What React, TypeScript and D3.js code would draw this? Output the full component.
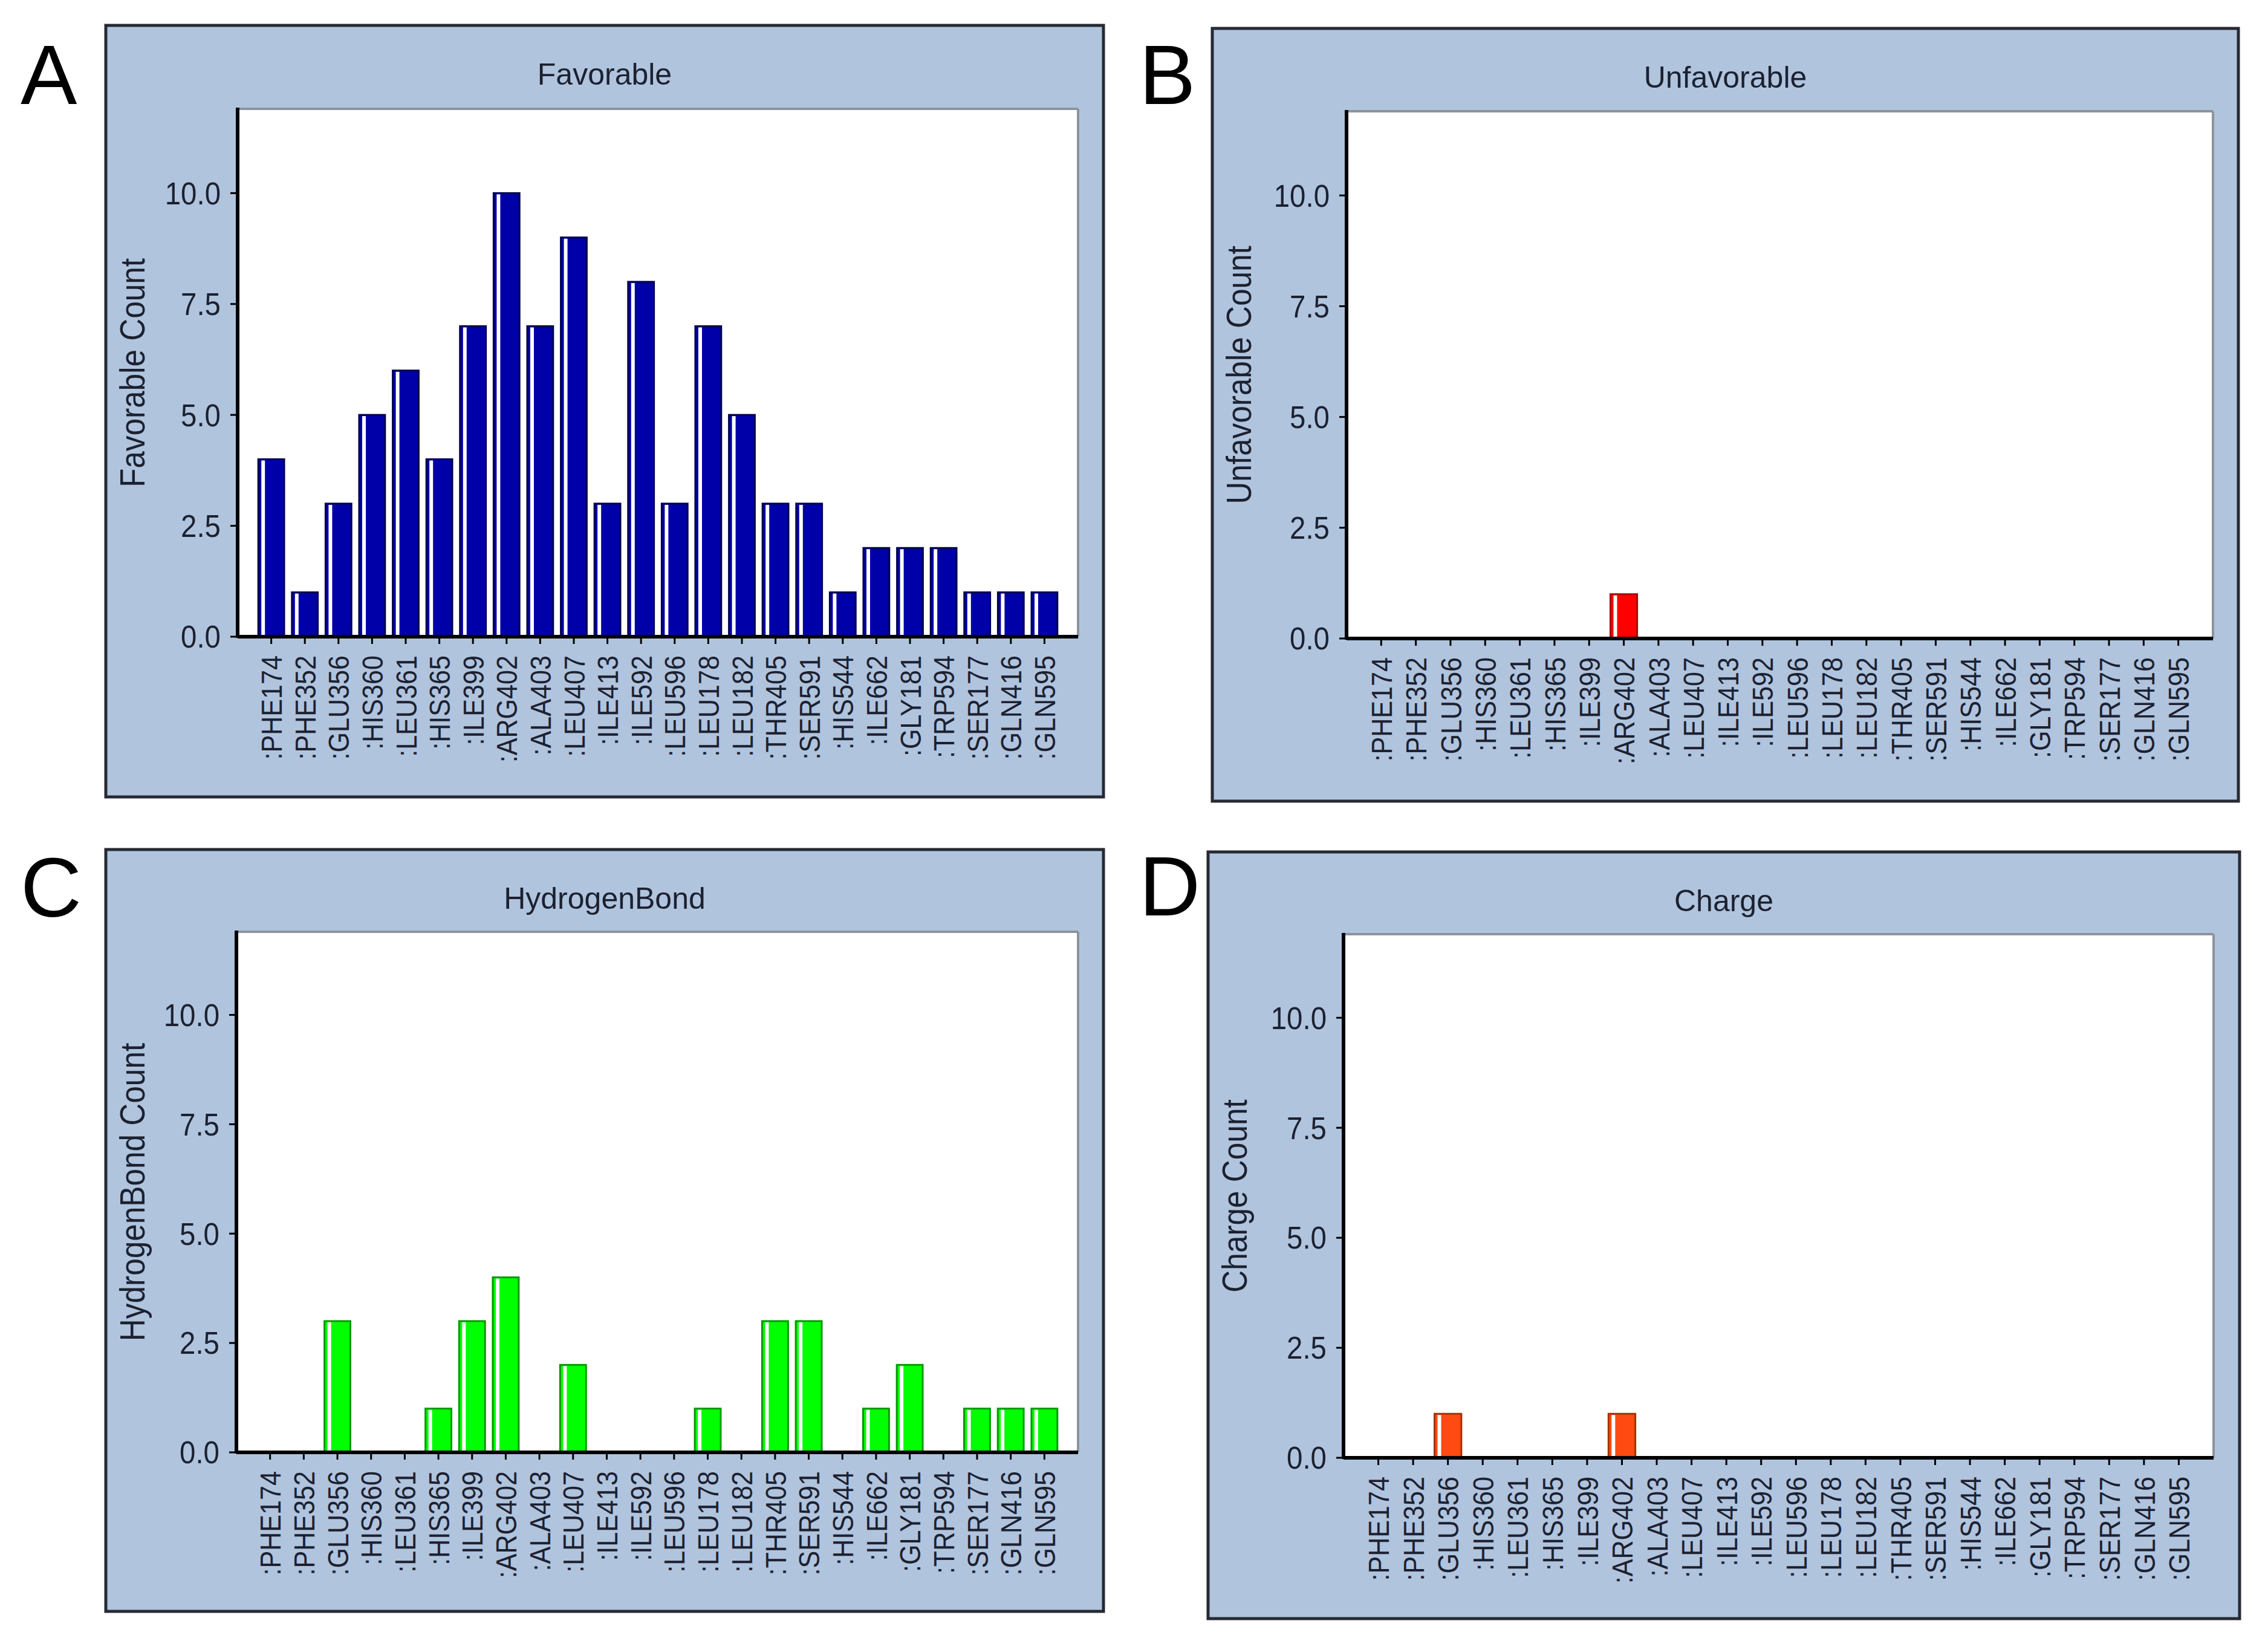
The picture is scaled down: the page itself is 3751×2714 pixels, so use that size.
import React from "react";
import * as d3 from "d3";

const residues = [
  ":PHE174", ":PHE352", ":GLU356", ":HIS360", ":LEU361", ":HIS365", ":ILE399", ":ARG402",
  ":ALA403", ":LEU407", ":ILE413", ":ILE592", ":LEU596", ":LEU178", ":LEU182", ":THR405",
  ":SER591", ":HIS544", ":ILE662", ":GLY181", ":TRP594", ":SER177", ":GLN416", ":GLN595",
];

const favorable = [4, 1, 3, 5, 6, 4, 7, 10, 7, 9, 3, 8, 3, 7, 5, 3, 3, 1, 2, 2, 2, 1, 1, 1];
const unfavorable = [0, 0, 0, 0, 0, 0, 0, 1, 0, 0, 0, 0, 0, 0, 0, 0, 0, 0, 0, 0, 0, 0, 0, 0];
const hydrogenBond = [0, 0, 3, 0, 0, 1, 3, 4, 0, 2, 0, 0, 0, 1, 0, 3, 3, 0, 1, 2, 0, 1, 1, 1];
const charge = [0, 0, 1, 0, 0, 0, 0, 1, 0, 0, 0, 0, 0, 0, 0, 0, 0, 0, 0, 0, 0, 0, 0, 0];

const yTicks = [0, 2.5, 5, 7.5, 10];
const yMax = 11.9;

const FONT = "'Liberation Sans', Arial, Helvetica, sans-serif";
const INK = "#1c2130";

interface Panel {
  letter: string;
  title: string;
  yLabel: string;
  values: number[];
  fill: string;
  stroke: string;
  box: [number, number, number, number]; // x0, y0, x1, y1 of outer frame
  plot: [number, number, number, number]; // x0, y0, x1, y1 of plot area
  letterPos: [number, number];
}

const panels: Panel[] = [
  {
    letter: "A", title: "Favorable", yLabel: "Favorable Count", values: favorable,
    fill: "#0000A8", stroke: "#000050",
    box: [175, 42, 1825, 1318], plot: [393, 180, 1783, 1053], letterPos: [34, 172],
  },
  {
    letter: "B", title: "Unfavorable", yLabel: "Unfavorable Count", values: unfavorable,
    fill: "#FF0000", stroke: "#B00000",
    box: [2005, 47, 3702, 1325], plot: [2227, 184, 3660, 1056], letterPos: [1884, 172],
  },
  {
    letter: "C", title: "HydrogenBond", yLabel: "HydrogenBond Count", values: hydrogenBond,
    fill: "#00FF00", stroke: "#009A00",
    box: [175, 1405, 1825, 2665], plot: [391, 1541, 1783, 2402], letterPos: [34, 1516],
  },
  {
    letter: "D", title: "Charge", yLabel: "Charge Count", values: charge,
    fill: "#FF4A12", stroke: "#A83000",
    box: [1998, 1409, 3704, 2677], plot: [2222, 1545, 3661, 2411], letterPos: [1884, 1514],
  },
];

const ChartPanel: React.FC<{ p: Panel }> = ({ p }) => {
  const [bx0, by0, bx1, by1] = p.box;
  const [px0, py0, px1, py1] = p.plot;

  const x = d3.scalePoint<string>().domain(residues).range([px0, px1]).padding(1);
  const y = d3.scaleLinear().domain([0, yMax]).range([py1, py0]);
  const bw = x.step() * 0.77;

  return (
    <g>
      {/* frame */}
      <rect x={bx0} y={by0} width={bx1 - bx0} height={by1 - by0} fill="#B0C4DE" stroke="#262a33" strokeWidth={5} />
      <text x={(bx0 + bx1) / 2} y={by0 + 98} textAnchor="middle" fontFamily={FONT} fontSize={50} fill={INK}>
        {p.title}
      </text>

      {/* plot area */}
      <rect x={px0} y={py0} width={px1 - px0} height={py1 - py0} fill="#ffffff" />
      <line x1={px0} x2={px1} y1={py0} y2={py0} stroke="#8e939b" strokeWidth={4} />
      <line x1={px1} x2={px1} y1={py0} y2={py1} stroke="#8e939b" strokeWidth={4} />

      {/* bars */}
      {residues.map((r, i) => {
        const v = p.values[i];
        if (!v) return null;
        const cx = x(r)!;
        const top = y(v);
        const h = y(0) - top;
        return (
          <g key={r}>
            <rect x={cx - bw / 2} y={top} width={bw} height={h} fill={p.fill} stroke={p.stroke} strokeWidth={3} />
            <rect x={cx - bw / 2 + 5} y={top + 2} width={6} height={h - 2} fill="#ffffff" />
          </g>
        );
      })}

      {/* axes */}
      <line x1={px0} x2={px0} y1={py0 - 2} y2={py1 + 2} stroke="#000" strokeWidth={6} />
      <line x1={px0} x2={px1} y1={py1} y2={py1} stroke="#000" strokeWidth={6} />

      {yTicks.map((t) => (
        <g key={t}>
          <line x1={px0 - 12} x2={px0} y1={y(t)} y2={y(t)} stroke="#000" strokeWidth={3} />
          <text
            transform={`translate(${px0 - 28},${y(t)}) scale(0.93,1)`}
            dy="0.36em"
            textAnchor="end"
            fontFamily={FONT}
            fontSize={51}
            fill={INK}
          >
            {t.toFixed(1)}
          </text>
        </g>
      ))}

      {residues.map((r) => (
        <g key={r}>
          <line x1={x(r)!} x2={x(r)!} y1={py1} y2={py1 + 12} stroke="#000" strokeWidth={3} />
          <text
            transform={`translate(${x(r)!},${py1 + 31}) rotate(-90) scale(0.88,1)`}
            dy="0.36em"
            textAnchor="end"
            fontFamily={FONT}
            fontSize={49}
            fill={INK}
          >
            {r}
          </text>
        </g>
      ))}

      <text
        transform={`translate(${bx0 + 43},${(py0 + py1) / 2}) rotate(-90) scale(0.9,1)`}
        dy="0.36em"
        textAnchor="middle"
        fontFamily={FONT}
        fontSize={57}
        fill={INK}
      >
        {p.yLabel}
      </text>

      <text x={p.letterPos[0]} y={p.letterPos[1]} fontFamily={FONT} fontSize={140} fill="#000">
        {p.letter}
      </text>
    </g>
  );
};

export default function App() {
  return (
    <svg
      width={3751}
      height={2714}
      viewBox="0 0 3751 2714"
      style={{ position: "absolute", left: 0, top: 0, display: "block", background: "#ffffff" }}
    >
      <rect x={0} y={0} width={3751} height={2714} fill="#ffffff" />
      {panels.map((p) => (
        <ChartPanel key={p.letter} p={p} />
      ))}
    </svg>
  );
}
